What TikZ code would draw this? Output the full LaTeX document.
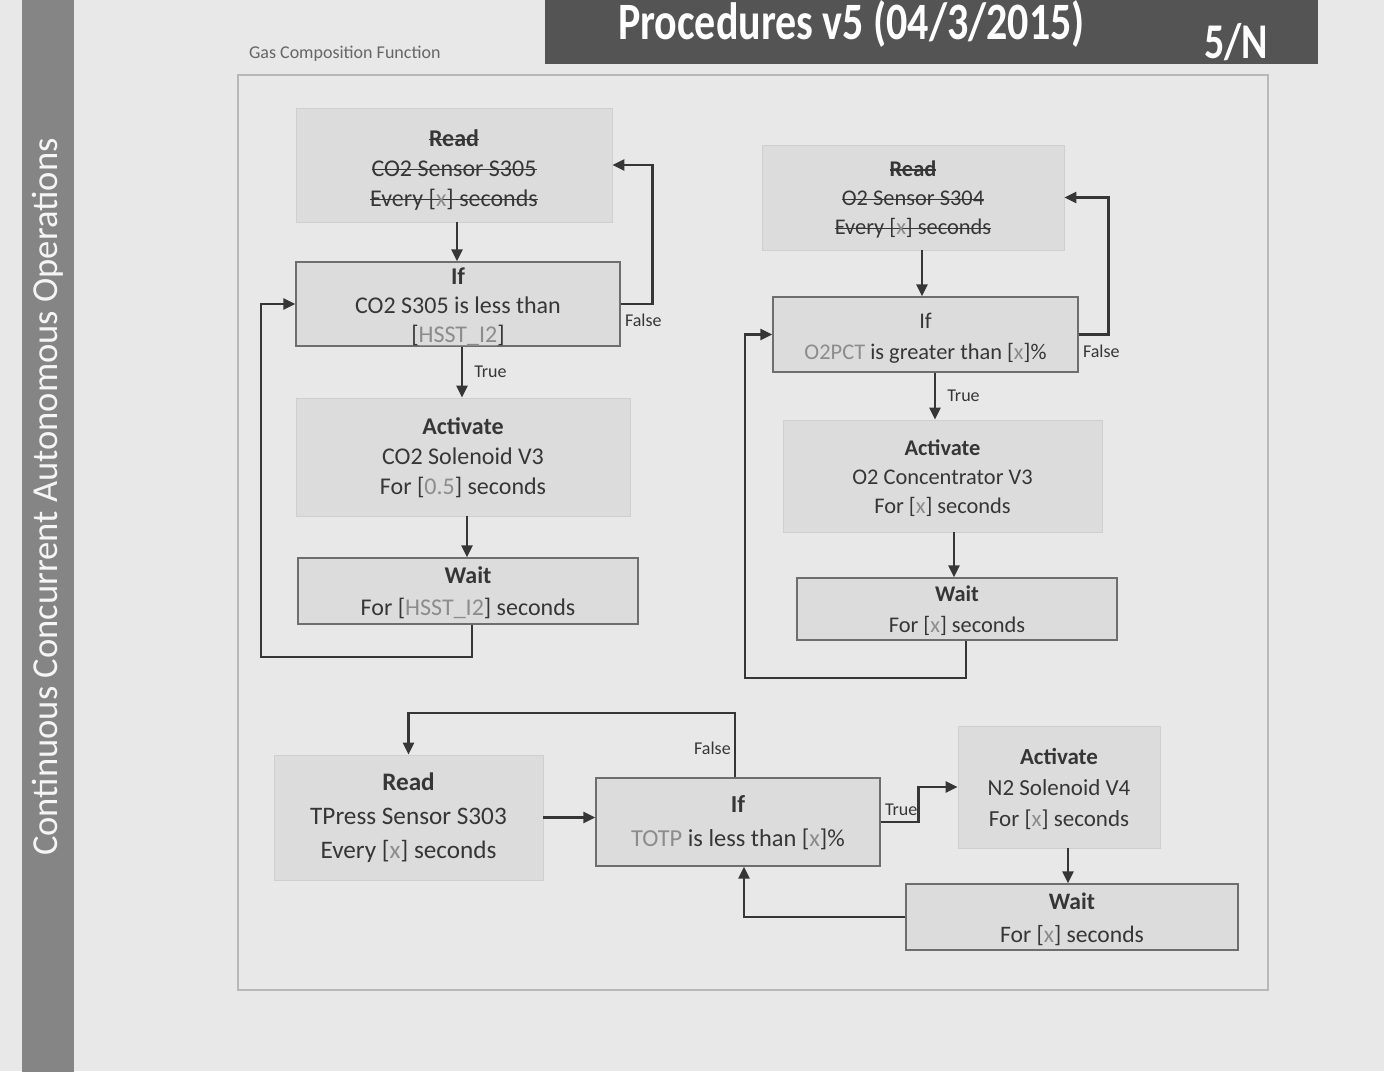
\documentclass[tikz,border=0pt]{standalone}
\usepackage{fontspec}
\setmainfont{Carlito}
\usetikzlibrary{arrows.meta,fit}

\definecolor{paper}{HTML}{E8E8E8}
\definecolor{boxfill}{HTML}{DCDCDC}
\definecolor{softedge}{HTML}{CFCFCF}
\definecolor{ruleedge}{HTML}{6E6E6E}
\definecolor{ink}{HTML}{363636}
\definecolor{phgray}{HTML}{8C8C8C}
\definecolor{band}{HTML}{545454}
\definecolor{side}{HTML}{858585}
\definecolor{framec}{HTML}{B8B8B8}

% type sizes of the three groups of boxes
\newcommand\coltxtA{\fontsize{12}{15}\selectfont}
\newcommand\coltxtB{\fontsize{11.2}{14.6}\selectfont}
\newcommand\tagtxt{\fontsize{9}{11}\selectfont}
\newcommand\ph[1]{\textcolor{phgray}{#1}}

% struck-through and underlined text
\newsavebox\markbox
\newcommand\strike[1]{\leavevmode\sbox\markbox{#1}\rlap{\textcolor{ink}{\rule[0.26em]{\wd\markbox}{0.55pt}}}\usebox\markbox}
\newcommand\uln[1]{\leavevmode\sbox\markbox{#1}\rlap{\textcolor{phgray}{\rule[-0.16em]{\wd\markbox}{0.5pt}}}\usebox\markbox}

\tikzset{
  flow/.style={draw=ink, line width=1.3pt, -{Triangle[length=6pt,width=5.5pt]}},
  softbox/.style={fill=boxfill, draw=softedge, line width=0.4pt, inner sep=0pt},
  ruledbox/.style={softbox, draw=ruleedge, line width=0.7pt},
  boxtext/.style={align=center, text=ink, inner sep=0pt},
  tag/.style={font=\tagtxt, text=ink, inner sep=1.5pt}
}

\begin{document}
\begin{tikzpicture}[x=0.5pt,y=-0.5pt]
\useasboundingbox (0,0) rectangle (1384,1071);
\fill[paper] (0,0) rectangle (1384,1071);

% side band
\fill[side] (22,-5) rectangle (74,1080);
\node[rotate=90, text=white!92!gray, font=\fontsize{18.3}{21}\selectfont] (sidetitle) at (48,497)
  {Continuous Concurrent Autonomous Operations};

% header band
\fill[band] (545,0) rectangle (1318,64);
\begin{scope}
  \clip (545,0) rectangle (1318,64);
  \node[anchor=east, yscale=1.25, text=white, font=\bfseries\fontsize{21}{24}\selectfont] (headtitle) at (1092,24)
    {Procedures v5 (04/3/2015)};
  \node[yscale=1.25, text=white, font=\bfseries\fontsize{20}{24}\selectfont] (pageno) at (1236,42) {5/N};
\end{scope}

% frame of the function
\node[anchor=west, text=gray!80!black, font=\fontsize{9}{11}\selectfont] (frametitle) at (242,54)
  {Gas Composition Function};
\draw[framec, line width=0.6pt] (238,75) rectangle (1268,990);

% ---------- CO2 loop ----------
\node[softbox, fit={(296,108) (612,222)}] (r1) {};
\node[boxtext, font=\coltxtA] (r1t) at ([yshift=-2.5pt]r1.center)
  {\strike{\textbf{Read}}\\ \strike{CO2 Sensor S305}\\ \strike{Every [\ph{x}] seconds}};
\node[ruledbox, fit={(296,262) (620,346)}] (i1) {};
\node[boxtext, font=\fontsize{12}{14.5}\selectfont] (i1t) at ([yshift=-1.5pt]i1.center)
  {\textbf{If}\\ CO2 S305 is less than\\ {[\uln{\ph{HSST\_I2}}]}};
\node[softbox, fit={(296,398) (630,516)}] (a1) {};
\node[boxtext, font=\coltxtA] (a1t) at ([yshift=-0.5pt]a1.center)
  {\textbf{Activate}\\ CO2 Solenoid V3\\ For [\ph{0.5}] seconds};
\node[ruledbox, fit={(298,558) (638,624)}] (w1) {};
\node[boxtext, font=\fontsize{12}{16}\selectfont] (w1t) at ([yshift=-1pt]w1.center)
  {\textbf{Wait}\\ For [\ph{HSST\_I2}] seconds};

\coordinate (c1a) at (457,0);
\coordinate (c1b) at (462,0);
\coordinate (c1c) at (467,0);
\coordinate (c1d) at (472,0);
\coordinate (lp1) at (261,657);

\draw[flow] (c1a |- r1.south) -- (c1a |- i1.north);
\draw[flow] (c1b |- i1.south) -- node[tag, right, xshift=4pt] {True} (c1b |- a1.north);
\draw[flow] (c1c |- a1.south) -- (c1c |- w1.north);
\draw[flow] (i1.east) node[tag, below right, yshift=-3pt] {False} -- ++(32,0) |- (r1.east);
\draw[flow] (c1d |- w1.south) |- (lp1) |- (i1.west);

% ---------- O2 loop ----------
\node[softbox, fit={(762,145) (1064,250)}] (r2) {};
\node[boxtext, font=\coltxtB] (r2t) at ([yshift=-1pt]r2.center)
  {\strike{\textbf{Read}}\\ \strike{O2 Sensor S304}\\ \strike{Every [\ph{x}] seconds}};
\node[ruledbox, fit={(773,297) (1078,372)}] (i2) {};
\node[boxtext, font=\fontsize{11.2}{15.5}\selectfont] (i2t) at ([yshift=-2pt]i2.center)
  {If\\ \ph{O2PCT} is greater than [\ph{x}]\%};
\node[softbox, fit={(783,420) (1102,532)}] (a2) {};
\node[boxtext, font=\coltxtB] (a2t) at ([yshift=-1pt]a2.center)
  {\textbf{Activate}\\ O2 Concentrator V3\\ For [\ph{x}] seconds};
\node[ruledbox, fit={(797,578) (1117,640)}] (w2) {};
\node[boxtext, font=\fontsize{11.2}{15.5}\selectfont] (w2t) at ([yshift=-1pt]w2.center)
  {\textbf{Wait}\\ For [\ph{x}] seconds};

\coordinate (c2a) at (922,0);
\coordinate (c2b) at (935,0);
\coordinate (c2c) at (954,0);
\coordinate (c2d) at (966,0);
\coordinate (lp2) at (745,678);

\draw[flow] (c2a |- r2.south) -- (c2a |- i2.north);
\draw[flow] (c2b |- i2.south) -- node[tag, right, xshift=4pt] {True} (c2b |- a2.north);
\draw[flow] (c2c |- a2.south) -- (c2c |- w2.north);
\draw[flow] (i2.east) node[tag, below right, yshift=-3pt] {False} -- ++(30,0) |- (r2.east);
\draw[flow] (c2d |- w2.south) |- (lp2) |- (i2.west);

% ---------- total pressure loop ----------
\node[softbox, fit={(274,755) (543,880)}] (r3) {};
\node[boxtext, font=\fontsize{12.6}{17}\selectfont] (r3t) at (r3.center)
  {\textbf{Read}\\ TPress Sensor S303\\ Every [\ph{x}] seconds};
\node[ruledbox, fit={(596,778) (880,866)}] (i3) {};
\node[boxtext, font=\fontsize{12.2}{17}\selectfont] (i3t) at ([yshift=-0.5pt]i3.center)
  {\textbf{If}\\ \ph{TOTP} is less than [\ph{x}]\%};
\node[softbox, fit={(958,726) (1160,848)}] (a3) {};
\node[boxtext, font=\fontsize{11.5}{15.7}\selectfont] (a3t) at ([yshift=-1pt]a3.center)
  {\textbf{Activate}\\ N2 Solenoid V4\\ For [\ph{x}] seconds};
\node[ruledbox, fit={(906,884) (1238,950)}] (w3) {};
\node[boxtext, font=\fontsize{11.8}{16.5}\selectfont] (w3t) at ([yshift=-1pt]w3.center)
  {\textbf{Wait}\\ For [\ph{x}] seconds};

\coordinate (c3f) at (735,713);
\coordinate (c3a) at (1068,0);
\coordinate (c3r) at (744,0);

\draw[flow] (r3.east) -- (r3.east -| i3.west);
\draw[flow] (c3f |- i3.north) -- node[tag, left, pos=0.45] {False} (c3f) -| (r3.north);
\draw[flow] (i3.east) node[tag, above right, yshift=1pt] {True} -- ++(38,0) |- (a3.west);
\draw[flow] (c3a |- a3.south) -- (c3a |- w3.north);
\draw[flow] (w3.west) -| (c3r |- i3.south);
\end{tikzpicture}
\end{document}
